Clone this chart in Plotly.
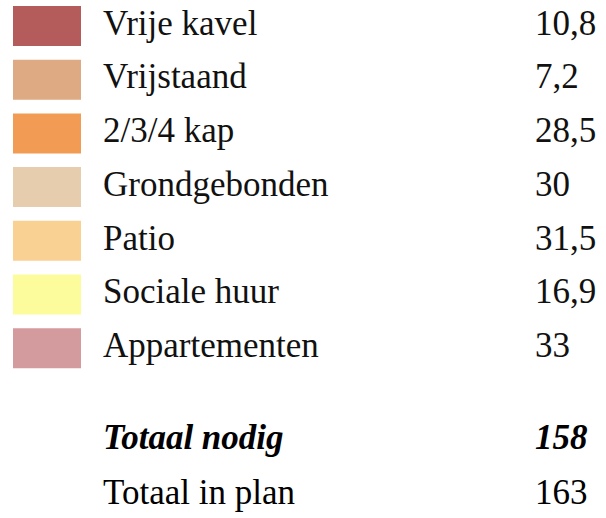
import plotly.graph_objects as go

categories = ["Vrije kavel", "Vrijstaand", "2/3/4 kap", "Grondgebonden", "Patio", "Sociale huur", "Appartementen"]
values = ["10,8", "7,2", "28,5", "30", "31,5", "16,9", "33"]
colors = ["#B45B5B", "#DEAA84", "#F29B55", "#E5CDAE", "#F8D193", "#FDFC9C", "#D49B9E"]

total_labels = ["Totaal nodig", "Totaal in plan"]
total_values = ["158", "163"]

FONT = "Liberation Serif, Times New Roman, serif"
FS = 35

rows = list(range(len(categories)))
total_rows = [7.72, 8.74]

fig = go.Figure()

# Swatches
fig.add_trace(go.Bar(
    y=rows, x=[68] * len(rows), base=13, orientation="h",
    width=0.745, marker=dict(color=colors, line=dict(width=0)),
    hoverinfo="skip", showlegend=False,
))

def text_trace(xpos, ys, texts, color):
    return go.Scatter(
        x=[xpos] * len(ys), y=ys, mode="text", text=texts,
        textposition="middle right", cliponaxis=False,
        textfont=dict(family=FONT, size=FS, color=color),
        showlegend=False, hoverinfo="skip",
    )

fig.add_trace(text_trace(103, rows, categories, "#111"))
fig.add_trace(text_trace(535, rows, values, "#111"))

tl = ["<b><i>%s</i></b>" % total_labels[0], total_labels[1]]
tv = ["<b><i>%s</i></b>" % total_values[0], total_values[1]]
fig.add_trace(text_trace(103, total_rows, tl, "#000"))
fig.add_trace(text_trace(535, total_rows, tv, "#000"))

fig.update_layout(
    width=606, height=518,
    margin=dict(l=0, r=0, t=0, b=0),
    paper_bgcolor="white", plot_bgcolor="white",
    xaxis=dict(range=[0, 606], visible=False, fixedrange=True),
    yaxis=dict(range=[(518 - 26) / 53.7, (0 - 26) / 53.7], visible=False, fixedrange=True),
)

fig.write_html(
    "out.html",
    config={"displayModeBar": False},
    post_script="document.body.style.margin='0';document.body.style.overflow='hidden';",
)
